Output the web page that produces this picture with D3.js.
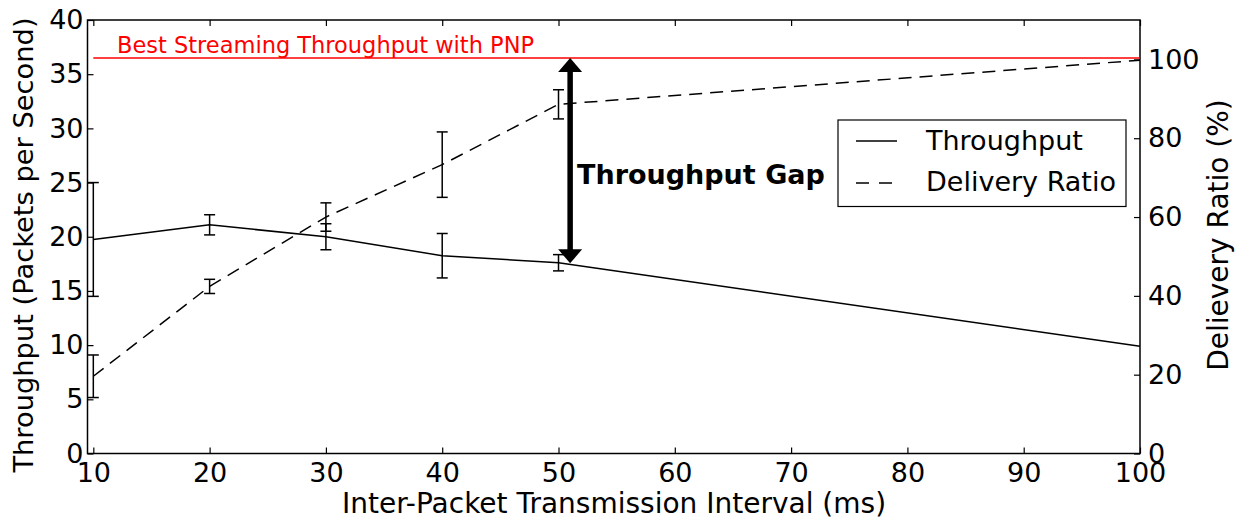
<!DOCTYPE html>
<html>
<head>
<meta charset="utf-8">
<script src="https://cdn.jsdelivr.net/npm/d3@7"></script>
<style>
  html, body { margin: 0; padding: 0; background: #fff; }
  svg { display: block; font-family: "DejaVu Sans", sans-serif; }
</style>
</head>
<body>
<svg id="chart" width="1242" height="523"></svg>
<script>
// ---- data ----
const intervals = [10, 20, 30, 40, 50, 100];
const throughput = [19.75, 21.1, 20.0, 18.25, 17.6, 9.9];
const throughputErr = [5.25, 0.93, 1.2, 2.05, 0.75, null];
const deliveryRatio = [19.6, 42.4, 60.0, 73.3, 88.6, 99.8];
const deliveryErr = [5.4, 1.8, 3.6, 8.3, 3.7, null];
const bestThroughput = 36.5;
const gapX = 51;
const gapBottom = 17.55;
const xTicks = [10, 20, 30, 40, 50, 60, 70, 80, 90, 100];
const yLeftTicks = [0, 5, 10, 15, 20, 25, 30, 35, 40];
const yRightTicks = [0, 20, 40, 60, 80, 100];
const texts = {
  xLabel: "Inter-Packet Transmission Interval (ms)",
  yLeftLabel: "Throughput (Packets per Second)",
  yRightLabel: "Delievery Ratio (%)",
  best: "Best Streaming Throughput with PNP",
  gap: "Throughput Gap",
  legend: ["Throughput", "Delivery Ratio"]
};

// ---- layout ----
const svg = d3.select("#chart");
const L = 87.5, R = 1140, T = 20, B = 453.5;
const x = d3.scaleLinear().domain([9.5, 100]).range([L, R]);
const yL = d3.scaleLinear().domain([0, 40]).range([B, T]);
const yR = d3.scaleLinear().domain([0, 110]).range([B, T]);
const fsTick = 27, fsLabel = 28, fsLegend = 27;
const tickLen = 6;

// frame
svg.append("rect").attr("x", L).attr("y", T).attr("width", R - L).attr("height", B - T)
  .attr("fill", "none").attr("stroke", "#000").attr("stroke-width", 1.5);

// axes (inward ticks)
const axB = d3.axisBottom(x).tickValues(xTicks).tickSize(-tickLen).tickPadding(9).tickFormat(d3.format("d"));
const gB = svg.append("g").attr("transform", `translate(0,${B})`).call(axB);
const axT = d3.axisTop(x).tickValues(xTicks).tickSize(-tickLen).tickFormat("");
const gT = svg.append("g").attr("transform", `translate(0,${T})`).call(axT);
const axLft = d3.axisLeft(yL).tickValues(yLeftTicks).tickSize(-tickLen).tickPadding(4).tickFormat(d3.format("d"));
const gL = svg.append("g").attr("transform", `translate(${L},0)`).call(axLft);
const axRgt = d3.axisRight(yR).tickValues(yRightTicks).tickSize(-tickLen).tickPadding(8).tickFormat(d3.format("d"));
const gR = svg.append("g").attr("transform", `translate(${R},0)`).call(axRgt);
[gB, gT, gL, gR].forEach(g => {
  g.select(".domain").remove();
  g.selectAll(".tick line").attr("stroke", "#000").attr("stroke-width", 1.2);
  g.selectAll(".tick text").attr("fill", "#000").attr("font-size", fsTick)
    .attr("font-family", "DejaVu Sans, sans-serif");
});
gB.selectAll(".tick text").attr("dy", "0.71em");

// axis labels
svg.append("text").attr("x", 614).attr("y", 513).attr("text-anchor", "middle")
  .attr("font-size", fsLabel).text(texts.xLabel);
svg.append("text").attr("transform", `translate(33,245) rotate(-90)`)
  .attr("text-anchor", "middle").attr("font-size", 27.3).text(texts.yLeftLabel);
svg.append("text").attr("transform", `translate(1228,235) rotate(-90)`)
  .attr("text-anchor", "middle").attr("font-size", fsLabel).text(texts.yRightLabel);

// red best line
svg.append("line").attr("x1", x(10)).attr("x2", x(100))
  .attr("y1", yL(bestThroughput)).attr("y2", yL(bestThroughput))
  .attr("stroke", "#ff0000").attr("stroke-width", 1.5);
svg.append("text").attr("x", 117).attr("y", yL(bestThroughput) - 5)
  .attr("fill", "#ff0000").attr("font-size", 22.5).text(texts.best);

// lines
const tData = intervals.map((d, i) => ({ x: d, y: throughput[i], e: throughputErr[i] }));
const dData = intervals.map((d, i) => ({ x: d, y: deliveryRatio[i], e: deliveryErr[i] }));
svg.append("path").datum(tData)
  .attr("d", d3.line().x(d => x(d.x)).y(d => yL(d.y)))
  .attr("fill", "none").attr("stroke", "#000").attr("stroke-width", 1.5);
svg.append("path").datum(dData)
  .attr("d", d3.line().x(d => x(d.x)).y(d => yR(d.y)))
  .attr("fill", "none").attr("stroke", "#000").attr("stroke-width", 1.5)
  .attr("stroke-dasharray", "13,8");

// error bars
function errBars(data, scale) {
  const g = svg.append("g").attr("stroke", "#000").attr("stroke-width", 1.5);
  data.filter(d => d.e != null).forEach(d => {
    const cx = x(d.x), y1 = scale(d.y + d.e), y2 = scale(d.y - d.e);
    g.append("line").attr("x1", cx).attr("x2", cx).attr("y1", y1).attr("y2", y2);
    g.append("line").attr("x1", cx - 5.5).attr("x2", cx + 5.5).attr("y1", y1).attr("y2", y1);
    g.append("line").attr("x1", cx - 5.5).attr("x2", cx + 5.5).attr("y1", y2).attr("y2", y2);
  });
}
errBars(tData, yL);
errBars(dData, yR);

// double arrow (throughput gap)
const ax = x(gapX), aTop = yL(bestThroughput), aBot = yL(gapBottom);
const headH = 14, headW = 12;
svg.append("line").attr("x1", ax).attr("x2", ax).attr("y1", aTop + headH - 1).attr("y2", aBot - headH + 1)
  .attr("stroke", "#000").attr("stroke-width", 5.5);
svg.append("path").attr("d", `M${ax},${aTop} L${ax - headW},${aTop + headH} L${ax + headW},${aTop + headH} Z`).attr("fill", "#000");
svg.append("path").attr("d", `M${ax},${aBot} L${ax - headW},${aBot - headH} L${ax + headW},${aBot - headH} Z`).attr("fill", "#000");
svg.append("text").attr("x", 577).attr("y", 184).attr("font-size", 27).attr("font-weight", "bold")
  .text(texts.gap);

// legend
const lg = svg.append("g");
lg.append("rect").attr("x", 838).attr("y", 120).attr("width", 288).attr("height", 86.5)
  .attr("fill", "#fff").attr("stroke", "#000").attr("stroke-width", 1.2);
lg.append("line").attr("x1", 856).attr("x2", 897).attr("y1", 141).attr("y2", 141)
  .attr("stroke", "#000").attr("stroke-width", 1.5);
lg.append("line").attr("x1", 856).attr("x2", 897).attr("y1", 183).attr("y2", 183)
  .attr("stroke", "#000").attr("stroke-width", 1.5).attr("stroke-dasharray", "13,10");
lg.append("text").attr("x", 926).attr("y", 150).attr("font-size", fsLegend).text(texts.legend[0]);
lg.append("text").attr("x", 926).attr("y", 191).attr("font-size", fsLegend).text(texts.legend[1]);
</script>
</body>
</html>
